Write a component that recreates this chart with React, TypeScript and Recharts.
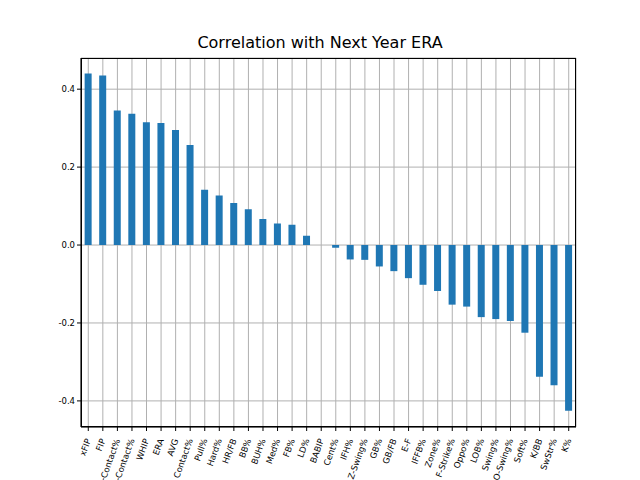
import { Bar, BarChart, CartesianGrid, XAxis, YAxis } from "recharts";

const stats = [
  "xFIP", "FIP", "O-Contact%", "Z-Contact%", "WHIP", "ERA", "AVG", "Contact%", "Pull%", "Hard%",
  "HR/FB", "BB%", "BUH%", "Med%", "FB%", "LD%", "BABIP", "Cent%", "IFH%", "Z-Swing%",
  "GB%", "GB/FB", "E-F", "IFFB%", "Zone%", "F-Strike%", "Oppo%", "LOB%", "Swing%", "O-Swing%",
  "Soft%", "K/BB", "SwStr%", "K%",
];
const corr = [
  0.44, 0.435, 0.345, 0.337, 0.315, 0.313, 0.295, 0.257, 0.142, 0.127,
  0.108, 0.092, 0.067, 0.055, 0.052, 0.024, 0.0, -0.007, -0.037, -0.038,
  -0.055, -0.067, -0.085, -0.102, -0.118, -0.153, -0.158, -0.185, -0.19, -0.195,
  -0.225, -0.338, -0.36, -0.425,
];
const yTicks = [-0.4, -0.2, 0, 0.2, 0.4];

const data = stats.map((s, i) => ({ stat: s, value: corr[i] }));

const Tick = ({ x, y, payload }: any) => (
  <g transform={`translate(${x},${y + 6})`}>
    <text transform="rotate(-70)" textAnchor="end" dy={3} fontSize={8.5} fill="#000">
      {payload.value}
    </text>
  </g>
);

export default function App() {
  return (
    <div style={{ position: "absolute", left: 0, top: 0, width: 640, height: 480, background: "#fff", fontFamily: "DejaVu Sans" }}>
      <div style={{ position: "absolute", top: 33, width: 640, textAlign: "center", fontSize: 16 }}>
        Correlation with Next Year ERA
      </div>
      <BarChart width={640} height={480} data={data} margin={{ top: 58, right: 64, left: 31, bottom: 0 }} barCategoryGap="25%">
        <CartesianGrid stroke="#b0b0b0" />
        <XAxis dataKey="stat" interval={0} tick={<Tick />} height={53} stroke="#000" tickSize={4} />
        <YAxis
          width={50}
          domain={[-0.467, 0.48]}
          ticks={yTicks}
          tickFormatter={(v) => v.toFixed(1)}
          tick={{ fontSize: 8.5, fill: "#000" }}
          stroke="#000"
          tickSize={4}
          allowDataOverflow
        />
        <Bar dataKey="value" fill="#1f77b4" isAnimationActive={false} />
      </BarChart>
      <div style={{ position: "absolute", left: 81, top: 58, width: 495, height: 369, border: "1px solid #000", boxSizing: "border-box", pointerEvents: "none" }} />
    </div>
  );
}
